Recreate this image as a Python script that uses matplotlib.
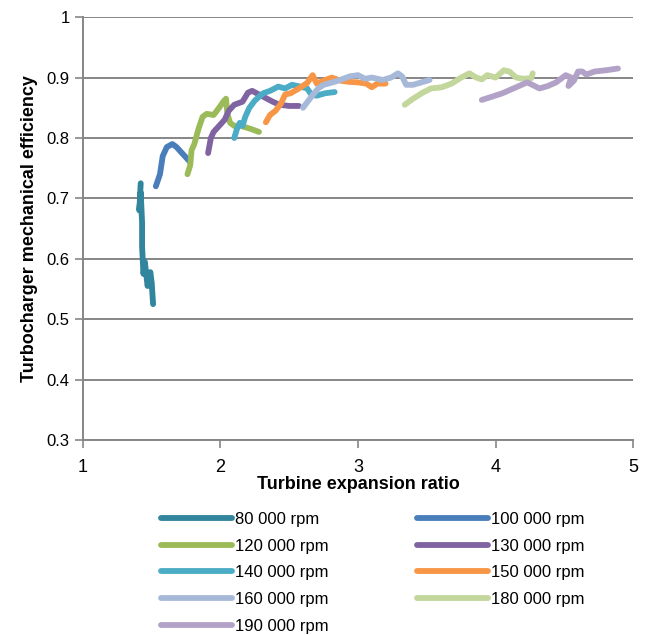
import matplotlib
matplotlib.use("Agg")
import matplotlib.pyplot as plt

plt.rcParams['font.family'] = ['Liberation Sans', 'DejaVu Sans']

# data (expansion ratio, mechanical efficiency)
x_80 = [1.42, 1.41, 1.42, 1.43, 1.43, 1.44, 1.45, 1.46, 1.47, 1.49, 1.50, 1.51]
y_80 = [0.725, 0.68, 0.71, 0.66, 0.62, 0.575, 0.595, 0.575, 0.555, 0.578, 0.56, 0.525]

x_100 = [1.53, 1.56, 1.58, 1.61, 1.65, 1.68, 1.72, 1.76, 1.78]
y_100 = [0.72, 0.74, 0.77, 0.785, 0.79, 0.785, 0.775, 0.765, 0.76]

x_120 = [1.76, 1.78, 1.79, 1.81, 1.84, 1.87, 1.90, 1.95, 1.99, 2.02, 2.04, 2.05, 2.07, 2.10, 2.15, 2.22, 2.28]
y_120 = [0.74, 0.755, 0.78, 0.79, 0.815, 0.835, 0.84, 0.838, 0.85, 0.86, 0.865, 0.84, 0.825, 0.82, 0.82, 0.815, 0.81]

x_130 = [1.91, 1.93, 1.95, 1.99, 2.03, 2.06, 2.10, 2.16, 2.20, 2.23, 2.28, 2.33, 2.38, 2.43, 2.50, 2.57]
y_130 = [0.775, 0.80, 0.81, 0.82, 0.83, 0.845, 0.855, 0.86, 0.875, 0.878, 0.872, 0.866, 0.86, 0.855, 0.853, 0.853]

x_140 = [2.10, 2.12, 2.14, 2.16, 2.18, 2.21, 2.25, 2.31, 2.36, 2.42, 2.47, 2.52, 2.58, 2.63, 2.66, 2.70, 2.76, 2.83]
y_140 = [0.80, 0.815, 0.825, 0.82, 0.835, 0.85, 0.862, 0.874, 0.878, 0.885, 0.882, 0.888, 0.885, 0.882, 0.872, 0.870, 0.874, 0.876]

x_150 = [2.33, 2.36, 2.40, 2.44, 2.47, 2.51, 2.57, 2.63, 2.67, 2.70, 2.75, 2.81, 2.87, 2.93, 3.00, 3.06, 3.10, 3.14, 3.20]
y_150 = [0.826, 0.838, 0.845, 0.857, 0.872, 0.874, 0.882, 0.891, 0.904, 0.89, 0.895, 0.90, 0.895, 0.893, 0.892, 0.89, 0.884, 0.89, 0.89]

x_160 = [2.60, 2.64, 2.67, 2.71, 2.75, 2.83, 2.88, 2.94, 3.00, 3.05, 3.10, 3.18, 3.24, 3.29, 3.32, 3.35, 3.40, 3.46, 3.52]
y_160 = [0.85, 0.862, 0.871, 0.882, 0.888, 0.893, 0.897, 0.902, 0.904, 0.898, 0.90, 0.896, 0.90, 0.907, 0.902, 0.888, 0.888, 0.892, 0.896]

x_180 = [3.34, 3.40, 3.47, 3.53, 3.61, 3.68, 3.75, 3.81, 3.86, 3.90, 3.94, 4.00, 4.06, 4.10, 4.15, 4.20, 4.26, 4.27]
y_180 = [0.855, 0.865, 0.875, 0.882, 0.884, 0.89, 0.90, 0.907, 0.90, 0.897, 0.904, 0.90, 0.912, 0.91, 0.90, 0.898, 0.899, 0.907]

x_190 = [3.90, 3.97, 4.05, 4.14, 4.23, 4.32, 4.38, 4.44, 4.51, 4.55, 4.53, 4.57, 4.60, 4.63, 4.66, 4.72, 4.80, 4.89]
y_190 = [0.863, 0.868, 0.874, 0.883, 0.892, 0.882, 0.886, 0.892, 0.904, 0.90, 0.886, 0.895, 0.91, 0.91, 0.905, 0.91, 0.912, 0.915]

series = [
    ('80 000 rpm', x_80, y_80, '#31859C'),
    ('100 000 rpm', x_100, y_100, '#4A7EBB'),
    ('120 000 rpm', x_120, y_120, '#9BBB59'),
    ('130 000 rpm', x_130, y_130, '#8064A2'),
    ('140 000 rpm', x_140, y_140, '#4BACC6'),
    ('150 000 rpm', x_150, y_150, '#F79646'),
    ('160 000 rpm', x_160, y_160, '#A7B9D9'),
    ('180 000 rpm', x_180, y_180, '#C3D69B'),
    ('190 000 rpm', x_190, y_190, '#B3A2C7'),
]

x_ticks = [1, 2, 3, 4, 5]
y_ticks = [0.3, 0.4, 0.5, 0.6, 0.7, 0.8, 0.9, 1.0]
y_tick_labels = ['0.3', '0.4', '0.5', '0.6', '0.7', '0.8', '0.9', '1']

fig = plt.figure(figsize=(6.48, 6.35), dpi=100)
ax = fig.add_axes([0.128, 0.307, 0.849, 0.666])

lines = {}
for name, xs, ys, col in series:
    ln, = ax.plot(xs, ys, color=col, lw=4.2, solid_capstyle='round', solid_joinstyle='round', label=name)
    lines[name] = ln

ax.set_xlim(1, 5)
ax.set_ylim(0.3, 1.0)
ax.set_xticks(x_ticks)
ax.set_yticks(y_ticks)
ax.set_yticklabels(y_tick_labels)
ax.grid(axis='y', color='#868686', lw=1.4)
ax.set_axisbelow(True)
for s in ['top', 'right']:
    ax.spines[s].set_visible(False)
for s in ['left', 'bottom']:
    ax.spines[s].set_color('#868686')
    ax.spines[s].set_linewidth(1.4)
ax.tick_params(axis='both', colors='#868686', labelcolor='black', labelsize=12, length=6, width=1.2)
ax.tick_params(axis='x', pad=8, labelsize=13)

ax.set_xlabel('Turbine expansion ratio', fontsize=13, fontweight='bold', labelpad=0)
ax.set_ylabel('Turbocharger mechanical efficiency', fontsize=13, fontweight='bold', labelpad=6)

# legend is filled row-wise in the reference, matplotlib fills by column
order = ['80 000 rpm', '120 000 rpm', '140 000 rpm', '160 000 rpm', '190 000 rpm',
         '100 000 rpm', '130 000 rpm', '150 000 rpm', '180 000 rpm']
fig.legend([lines[n] for n in order], order, ncol=2, loc='upper left',
           bbox_to_anchor=(0.235, 0.207), frameon=False, fontsize=12,
           handlelength=4.3, handletextpad=0.15, columnspacing=5.3,
           labelspacing=0.7, borderpad=0)

fig.savefig('out.png', dpi=100)
